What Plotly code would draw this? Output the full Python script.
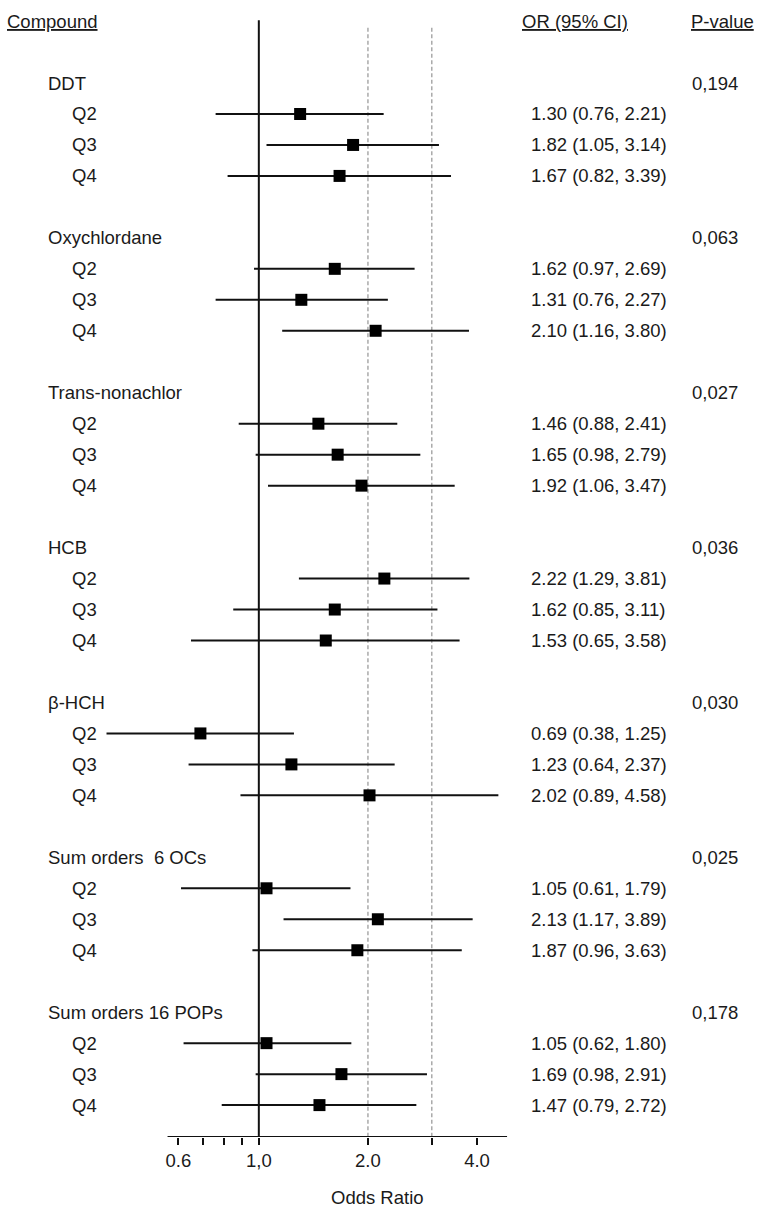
import math
import plotly.graph_objects as go

compounds = ["DDT", "Oxychlordane", "Trans-nonachlor", "HCB", "β-HCH",
             "Sum orders  6 OCs", "Sum orders 16 POPs"]
quartiles = ["Q2", "Q3", "Q4"]
or_vals = [[1.30, 1.82, 1.67], [1.62, 1.31, 2.10], [1.46, 1.65, 1.92],
           [2.22, 1.62, 1.53], [0.69, 1.23, 2.02], [1.05, 2.13, 1.87],
           [1.05, 1.69, 1.47]]
ci_low = [[0.76, 1.05, 0.82], [0.97, 0.76, 1.16], [0.88, 0.98, 1.06],
          [1.29, 0.85, 0.65], [0.38, 0.64, 0.89], [0.61, 1.17, 0.96],
          [0.62, 0.98, 0.79]]
ci_high = [[2.21, 3.14, 3.39], [2.69, 2.27, 3.80], [2.41, 2.79, 3.47],
           [3.81, 3.11, 3.58], [1.25, 2.37, 4.58], [1.79, 3.89, 3.63],
           [1.80, 2.91, 2.72]]
p_values = ["0,194", "0,063", "0,027", "0,036", "0,030", "0,025", "0,178"]
tick_vals = [0.6, 0.7, 0.8, 0.9, 1.0, 2.0, 3.0, 4.0]
tick_text = ["0.6", "", "", "", "1,0", "2.0", "", "4.0"]

W, H = 760, 1216
XMIN, XMAX = 0.36, 4.9
L, R = 98, 251
T, B = 10, 79
plot_w = W - L - R
Y_TOP, Y_BOT = -2.357, 34.03

def px2paper(px):
    return (px - L) / plot_w

FONT = "Arial, 'Liberation Sans', sans-serif"
TXT = "#1a1a1a"
FS = 18.5

fig = go.Figure()

lx, ly, mx, my = [], [], [], []
annotations = []
for g, comp in enumerate(compounds):
    hdr = 5 * g
    annotations.append(dict(x=px2paper(46), y=hdr, xref="paper", yref="y", text=comp,
                            showarrow=False, xanchor="left", yanchor="middle"))
    annotations.append(dict(x=px2paper(690), y=hdr, xref="paper", yref="y", text=p_values[g],
                            showarrow=False, xanchor="left", yanchor="middle"))
    for q in range(3):
        r = hdr + 1 + q
        lx += [ci_low[g][q], ci_high[g][q], None]
        ly += [r, r, None]
        mx.append(or_vals[g][q])
        my.append(r)
        annotations.append(dict(x=px2paper(70), y=r, xref="paper", yref="y", text=quartiles[q],
                                showarrow=False, xanchor="left", yanchor="middle"))
        annotations.append(dict(x=px2paper(529), y=r, xref="paper", yref="y",
                                text=f"{or_vals[g][q]:.2f} ({ci_low[g][q]:.2f}, {ci_high[g][q]:.2f})",
                                showarrow=False, xanchor="left", yanchor="middle"))

annotations.append(dict(x=px2paper(5), y=-1.97, xref="paper", yref="y", text="<u>Compound</u>",
                        showarrow=False, xanchor="left", yanchor="middle"))
annotations.append(dict(x=px2paper(520), y=-1.97, xref="paper", yref="y", text="<u>OR (95% CI)</u>",
                        showarrow=False, xanchor="left", yanchor="middle"))
annotations.append(dict(x=px2paper(689), y=-1.97, xref="paper", yref="y", text="<u>P-value</u>",
                        showarrow=False, xanchor="left", yanchor="middle"))
annotations.append(dict(x=px2paper(377), y=-(1198 - (H - B)) / (H - T - B), xref="paper", yref="paper",
                        text="Odds Ratio", showarrow=False, xanchor="center", yanchor="middle"))

shapes = [
    dict(type="line", x0=1, x1=1, y0=-2.03, y1=Y_BOT, xref="x", yref="y",
         line=dict(color="#111111", width=2)),
    dict(type="line", x0=2, x1=2, y0=-1.78, y1=Y_BOT, xref="x", yref="y",
         line=dict(color="#aaaaaa", width=1.5, dash="4px,2.5px"), layer="below"),
    dict(type="line", x0=3, x1=3, y0=-1.78, y1=Y_BOT, xref="x", yref="y",
         line=dict(color="#aaaaaa", width=1.5, dash="4px,2.5px"), layer="below"),
    dict(type="line", x0=0.56, x1=4.84, y0=Y_BOT, y1=Y_BOT, xref="x", yref="y",
         line=dict(color="#111111", width=2)),
]

fig.add_trace(go.Scatter(x=lx, y=ly, mode="lines", line=dict(color="#111111", width=2),
                         hoverinfo="skip", showlegend=False))
fig.add_trace(go.Scatter(x=mx, y=my, mode="markers",
                         marker=dict(symbol="square", size=12, color="#000000"),
                         showlegend=False))

fig.update_layout(
    width=W, height=H,
    margin=dict(l=L, r=R, t=T, b=B),
    paper_bgcolor="white", plot_bgcolor="white",
    font=dict(family=FONT, size=FS, color=TXT),
    annotations=annotations, shapes=shapes,
    xaxis=dict(type="log", range=[math.log10(XMIN), math.log10(XMAX)],
               tickvals=tick_vals, ticktext=tick_text, ticks="outside", ticklen=7,
               tickwidth=2, tickcolor="#111111", showgrid=False, zeroline=False,
               showline=False, tickfont=dict(size=FS, color=TXT)),
    yaxis=dict(range=[Y_BOT, Y_TOP], visible=False, showgrid=False, zeroline=False),
)

fig.write_html("out.html", config={"displayModeBar": False},
               post_script="document.body.style.margin='0';document.body.style.overflow='hidden';")
